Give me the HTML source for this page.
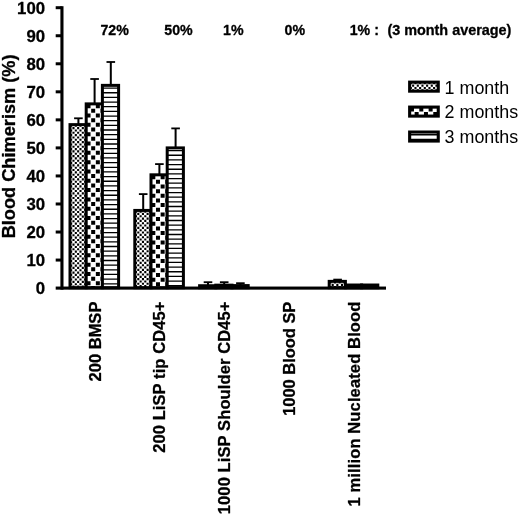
<!DOCTYPE html>
<html lang="en">
<head>
<meta charset="utf-8">
<title>Blood Chimerism chart</title>
<style>
html,body{margin:0;padding:0;background:#fff;}
body{width:520px;height:515px;overflow:hidden;}
svg{display:block;}
text{font-family:"Liberation Sans",Arial,Helvetica,sans-serif;fill:#000;}
.b{font-weight:bold;stroke:#000;stroke-width:0.3px;stroke-linejoin:round;}
</style>
</head>
<body>
<svg width="520" height="515" viewBox="0 0 520 515">
<rect x="0" y="0" width="520" height="515" fill="#fff"/>

<rect x="77.40" y="118.30" width="2" height="6.33" fill="#000"/>
<rect x="74.10" y="117.40" width="8.6" height="1.8" fill="#000"/>
<rect x="70.00" y="124.63" width="16.20" height="163.07" fill="#fff"/>
<path d="M70.11 124.74H72.21V126.84H70.11ZM74.77 124.74H76.87V126.84H74.77ZM79.43 124.74H81.53V126.84H79.43ZM84.09 124.74H86.19V126.84H84.09ZM72.44 127.07H74.54V129.17H72.44ZM77.1 127.07H79.2V129.17H77.1ZM81.77 127.07H83.86V129.17H81.77ZM70.11 129.4H72.21V131.5H70.11ZM74.77 129.4H76.87V131.5H74.77ZM79.43 129.4H81.53V131.5H79.43ZM84.09 129.4H86.19V131.5H84.09ZM72.44 131.73H74.54V133.83H72.44ZM77.1 131.73H79.2V133.83H77.1ZM81.77 131.73H83.86V133.83H81.77ZM70.11 134.06H72.21V136.16H70.11ZM74.77 134.06H76.87V136.16H74.77ZM79.43 134.06H81.53V136.16H79.43ZM84.09 134.06H86.19V136.16H84.09ZM72.44 136.39H74.54V138.49H72.44ZM77.1 136.39H79.2V138.49H77.1ZM81.77 136.39H83.86V138.49H81.77ZM70.11 138.72H72.21V140.82H70.11ZM74.77 138.72H76.87V140.82H74.77ZM79.43 138.72H81.53V140.82H79.43ZM84.09 138.72H86.19V140.82H84.09ZM72.44 141.05H74.54V143.15H72.44ZM77.1 141.05H79.2V143.15H77.1ZM81.77 141.05H83.86V143.15H81.77ZM70.11 143.38H72.21V145.48H70.11ZM74.77 143.38H76.87V145.48H74.77ZM79.43 143.38H81.53V145.48H79.43ZM84.09 143.38H86.19V145.48H84.09ZM72.44 145.71H74.54V147.81H72.44ZM77.1 145.71H79.2V147.81H77.1ZM81.77 145.71H83.86V147.81H81.77ZM70.11 148.04H72.21V150.14H70.11ZM74.77 148.04H76.87V150.14H74.77ZM79.43 148.04H81.53V150.14H79.43ZM84.09 148.04H86.19V150.14H84.09ZM72.44 150.37H74.54V152.47H72.44ZM77.1 150.37H79.2V152.47H77.1ZM81.77 150.37H83.86V152.47H81.77ZM70.11 152.7H72.21V154.8H70.11ZM74.77 152.7H76.87V154.8H74.77ZM79.43 152.7H81.53V154.8H79.43ZM84.09 152.7H86.19V154.8H84.09ZM72.44 155.03H74.54V157.13H72.44ZM77.1 155.03H79.2V157.13H77.1ZM81.77 155.03H83.86V157.13H81.77ZM70.11 157.36H72.21V159.46H70.11ZM74.77 157.36H76.87V159.46H74.77ZM79.43 157.36H81.53V159.46H79.43ZM84.09 157.36H86.19V159.46H84.09ZM72.44 159.69H74.54V161.79H72.44ZM77.1 159.69H79.2V161.79H77.1ZM81.77 159.69H83.86V161.79H81.77ZM70.11 162.02H72.21V164.12H70.11ZM74.77 162.02H76.87V164.12H74.77ZM79.43 162.02H81.53V164.12H79.43ZM84.09 162.02H86.19V164.12H84.09ZM72.44 164.35H74.54V166.45H72.44ZM77.1 164.35H79.2V166.45H77.1ZM81.77 164.35H83.86V166.45H81.77ZM70.11 166.68H72.21V168.78H70.11ZM74.77 166.68H76.87V168.78H74.77ZM79.43 166.68H81.53V168.78H79.43ZM84.09 166.68H86.19V168.78H84.09ZM72.44 169.01H74.54V171.11H72.44ZM77.1 169.01H79.2V171.11H77.1ZM81.77 169.01H83.86V171.11H81.77ZM70.11 171.34H72.21V173.44H70.11ZM74.77 171.34H76.87V173.44H74.77ZM79.43 171.34H81.53V173.44H79.43ZM84.09 171.34H86.19V173.44H84.09ZM72.44 173.67H74.54V175.77H72.44ZM77.1 173.67H79.2V175.77H77.1ZM81.77 173.67H83.86V175.77H81.77ZM70.11 176H72.21V178.1H70.11ZM74.77 176H76.87V178.1H74.77ZM79.43 176H81.53V178.1H79.43ZM84.09 176H86.19V178.1H84.09ZM72.44 178.33H74.54V180.43H72.44ZM77.1 178.33H79.2V180.43H77.1ZM81.77 178.33H83.86V180.43H81.77ZM70.11 180.66H72.21V182.76H70.11ZM74.77 180.66H76.87V182.76H74.77ZM79.43 180.66H81.53V182.76H79.43ZM84.09 180.66H86.19V182.76H84.09ZM72.44 182.99H74.54V185.09H72.44ZM77.1 182.99H79.2V185.09H77.1ZM81.77 182.99H83.86V185.09H81.77ZM70.11 185.32H72.21V187.42H70.11ZM74.77 185.32H76.87V187.42H74.77ZM79.43 185.32H81.53V187.42H79.43ZM84.09 185.32H86.19V187.42H84.09ZM72.44 187.65H74.54V189.75H72.44ZM77.1 187.65H79.2V189.75H77.1ZM81.77 187.65H83.86V189.75H81.77ZM70.11 189.98H72.21V192.08H70.11ZM74.77 189.98H76.87V192.08H74.77ZM79.43 189.98H81.53V192.08H79.43ZM84.09 189.98H86.19V192.08H84.09ZM72.44 192.31H74.54V194.41H72.44ZM77.1 192.31H79.2V194.41H77.1ZM81.77 192.31H83.86V194.41H81.77ZM70.11 194.64H72.21V196.74H70.11ZM74.77 194.64H76.87V196.74H74.77ZM79.43 194.64H81.53V196.74H79.43ZM84.09 194.64H86.19V196.74H84.09ZM72.44 196.97H74.54V199.07H72.44ZM77.1 196.97H79.2V199.07H77.1ZM81.77 196.97H83.86V199.07H81.77ZM70.11 199.3H72.21V201.4H70.11ZM74.77 199.3H76.87V201.4H74.77ZM79.43 199.3H81.53V201.4H79.43ZM84.09 199.3H86.19V201.4H84.09ZM72.44 201.63H74.54V203.73H72.44ZM77.1 201.63H79.2V203.73H77.1ZM81.77 201.63H83.86V203.73H81.77ZM70.11 203.96H72.21V206.06H70.11ZM74.77 203.96H76.87V206.06H74.77ZM79.43 203.96H81.53V206.06H79.43ZM84.09 203.96H86.19V206.06H84.09ZM72.44 206.29H74.54V208.39H72.44ZM77.1 206.29H79.2V208.39H77.1ZM81.77 206.29H83.86V208.39H81.77ZM70.11 208.62H72.21V210.72H70.11ZM74.77 208.62H76.87V210.72H74.77ZM79.43 208.62H81.53V210.72H79.43ZM84.09 208.62H86.19V210.72H84.09ZM72.44 210.95H74.54V213.05H72.44ZM77.1 210.95H79.2V213.05H77.1ZM81.77 210.95H83.86V213.05H81.77ZM70.11 213.28H72.21V215.38H70.11ZM74.77 213.28H76.87V215.38H74.77ZM79.43 213.28H81.53V215.38H79.43ZM84.09 213.28H86.19V215.38H84.09ZM72.44 215.61H74.54V217.71H72.44ZM77.1 215.61H79.2V217.71H77.1ZM81.77 215.61H83.86V217.71H81.77ZM70.11 217.94H72.21V220.04H70.11ZM74.77 217.94H76.87V220.04H74.77ZM79.43 217.94H81.53V220.04H79.43ZM84.09 217.94H86.19V220.04H84.09ZM72.44 220.27H74.54V222.37H72.44ZM77.1 220.27H79.2V222.37H77.1ZM81.77 220.27H83.86V222.37H81.77ZM70.11 222.6H72.21V224.7H70.11ZM74.77 222.6H76.87V224.7H74.77ZM79.43 222.6H81.53V224.7H79.43ZM84.09 222.6H86.19V224.7H84.09ZM72.44 224.93H74.54V227.03H72.44ZM77.1 224.93H79.2V227.03H77.1ZM81.77 224.93H83.86V227.03H81.77ZM70.11 227.26H72.21V229.36H70.11ZM74.77 227.26H76.87V229.36H74.77ZM79.43 227.26H81.53V229.36H79.43ZM84.09 227.26H86.19V229.36H84.09ZM72.44 229.59H74.54V231.69H72.44ZM77.1 229.59H79.2V231.69H77.1ZM81.77 229.59H83.86V231.69H81.77ZM70.11 231.92H72.21V234.02H70.11ZM74.77 231.92H76.87V234.02H74.77ZM79.43 231.92H81.53V234.02H79.43ZM84.09 231.92H86.19V234.02H84.09ZM72.44 234.25H74.54V236.35H72.44ZM77.1 234.25H79.2V236.35H77.1ZM81.77 234.25H83.86V236.35H81.77ZM70.11 236.58H72.21V238.68H70.11ZM74.77 236.58H76.87V238.68H74.77ZM79.43 236.58H81.53V238.68H79.43ZM84.09 236.58H86.19V238.68H84.09ZM72.44 238.91H74.54V241.01H72.44ZM77.1 238.91H79.2V241.01H77.1ZM81.77 238.91H83.86V241.01H81.77ZM70.11 241.24H72.21V243.34H70.11ZM74.77 241.24H76.87V243.34H74.77ZM79.43 241.24H81.53V243.34H79.43ZM84.09 241.24H86.19V243.34H84.09ZM72.44 243.57H74.54V245.67H72.44ZM77.1 243.57H79.2V245.67H77.1ZM81.77 243.57H83.86V245.67H81.77ZM70.11 245.9H72.21V248H70.11ZM74.77 245.9H76.87V248H74.77ZM79.43 245.9H81.53V248H79.43ZM84.09 245.9H86.19V248H84.09ZM72.44 248.23H74.54V250.33H72.44ZM77.1 248.23H79.2V250.33H77.1ZM81.77 248.23H83.86V250.33H81.77ZM70.11 250.56H72.21V252.66H70.11ZM74.77 250.56H76.87V252.66H74.77ZM79.43 250.56H81.53V252.66H79.43ZM84.09 250.56H86.19V252.66H84.09ZM72.44 252.89H74.54V254.99H72.44ZM77.1 252.89H79.2V254.99H77.1ZM81.77 252.89H83.86V254.99H81.77ZM70.11 255.22H72.21V257.32H70.11ZM74.77 255.22H76.87V257.32H74.77ZM79.43 255.22H81.53V257.32H79.43ZM84.09 255.22H86.19V257.32H84.09ZM72.44 257.55H74.54V259.65H72.44ZM77.1 257.55H79.2V259.65H77.1ZM81.77 257.55H83.86V259.65H81.77ZM70.11 259.88H72.21V261.98H70.11ZM74.77 259.88H76.87V261.98H74.77ZM79.43 259.88H81.53V261.98H79.43ZM84.09 259.88H86.19V261.98H84.09ZM72.44 262.21H74.54V264.31H72.44ZM77.1 262.21H79.2V264.31H77.1ZM81.77 262.21H83.86V264.31H81.77ZM70.11 264.54H72.21V266.64H70.11ZM74.77 264.54H76.87V266.64H74.77ZM79.43 264.54H81.53V266.64H79.43ZM84.09 264.54H86.19V266.64H84.09ZM72.44 266.87H74.54V268.97H72.44ZM77.1 266.87H79.2V268.97H77.1ZM81.77 266.87H83.86V268.97H81.77ZM70.11 269.2H72.21V271.3H70.11ZM74.77 269.2H76.87V271.3H74.77ZM79.43 269.2H81.53V271.3H79.43ZM84.09 269.2H86.19V271.3H84.09ZM72.44 271.53H74.54V273.63H72.44ZM77.1 271.53H79.2V273.63H77.1ZM81.77 271.53H83.86V273.63H81.77ZM70.11 273.86H72.21V275.96H70.11ZM74.77 273.86H76.87V275.96H74.77ZM79.43 273.86H81.53V275.96H79.43ZM84.09 273.86H86.19V275.96H84.09ZM72.44 276.19H74.54V278.29H72.44ZM77.1 276.19H79.2V278.29H77.1ZM81.77 276.19H83.86V278.29H81.77ZM70.11 278.52H72.21V280.62H70.11ZM74.77 278.52H76.87V280.62H74.77ZM79.43 278.52H81.53V280.62H79.43ZM84.09 278.52H86.19V280.62H84.09ZM72.44 280.85H74.54V282.95H72.44ZM77.1 280.85H79.2V282.95H77.1ZM81.77 280.85H83.86V282.95H81.77ZM70.11 283.18H72.21V285.28H70.11ZM74.77 283.18H76.87V285.28H74.77ZM79.43 283.18H81.53V285.28H79.43ZM84.09 283.18H86.19V285.28H84.09ZM72.44 285.51H74.54V287.61H72.44ZM77.1 285.51H79.2V287.61H77.1ZM81.77 285.51H83.86V287.61H81.77ZM70.11 287.84H72.21V288.1H70.11ZM74.77 287.84H76.87V288.1H74.77ZM79.43 287.84H81.53V288.1H79.43ZM84.09 287.84H86.19V288.1H84.09Z" fill="#000"/>
<rect x="70.00" y="124.63" width="16.20" height="163.07" fill="none" stroke="#000" stroke-width="3.0"/>
<rect x="93.60" y="79.00" width="2" height="24.88" fill="#000"/>
<rect x="90.30" y="78.10" width="8.6" height="1.8" fill="#000"/>
<rect x="86.20" y="103.88" width="16.20" height="183.82" fill="#fff"/>
<path d="M86.53 104.21H90.53V108.21H86.53ZM95.85 104.21H99.85V108.21H95.85ZM91.19 108.87H95.19V112.87H91.19ZM100.51 108.87H102.4V112.87H100.51ZM86.53 113.53H90.53V117.53H86.53ZM95.85 113.53H99.85V117.53H95.85ZM91.19 118.19H95.19V122.19H91.19ZM100.51 118.19H102.4V122.19H100.51ZM86.53 122.85H90.53V126.85H86.53ZM95.85 122.85H99.85V126.85H95.85ZM91.19 127.51H95.19V131.51H91.19ZM100.51 127.51H102.4V131.51H100.51ZM86.53 132.17H90.53V136.17H86.53ZM95.85 132.17H99.85V136.17H95.85ZM91.19 136.83H95.19V140.83H91.19ZM100.51 136.83H102.4V140.83H100.51ZM86.53 141.49H90.53V145.49H86.53ZM95.85 141.49H99.85V145.49H95.85ZM91.19 146.15H95.19V150.15H91.19ZM100.51 146.15H102.4V150.15H100.51ZM86.53 150.81H90.53V154.81H86.53ZM95.85 150.81H99.85V154.81H95.85ZM91.19 155.47H95.19V159.47H91.19ZM100.51 155.47H102.4V159.47H100.51ZM86.53 160.13H90.53V164.13H86.53ZM95.85 160.13H99.85V164.13H95.85ZM91.19 164.79H95.19V168.79H91.19ZM100.51 164.79H102.4V168.79H100.51ZM86.53 169.45H90.53V173.45H86.53ZM95.85 169.45H99.85V173.45H95.85ZM91.19 174.11H95.19V178.11H91.19ZM100.51 174.11H102.4V178.11H100.51ZM86.53 178.77H90.53V182.77H86.53ZM95.85 178.77H99.85V182.77H95.85ZM91.19 183.43H95.19V187.43H91.19ZM100.51 183.43H102.4V187.43H100.51ZM86.53 188.09H90.53V192.09H86.53ZM95.85 188.09H99.85V192.09H95.85ZM91.19 192.75H95.19V196.75H91.19ZM100.51 192.75H102.4V196.75H100.51ZM86.53 197.41H90.53V201.41H86.53ZM95.85 197.41H99.85V201.41H95.85ZM91.19 202.07H95.19V206.07H91.19ZM100.51 202.07H102.4V206.07H100.51ZM86.53 206.73H90.53V210.73H86.53ZM95.85 206.73H99.85V210.73H95.85ZM91.19 211.39H95.19V215.39H91.19ZM100.51 211.39H102.4V215.39H100.51ZM86.53 216.05H90.53V220.05H86.53ZM95.85 216.05H99.85V220.05H95.85ZM91.19 220.71H95.19V224.71H91.19ZM100.51 220.71H102.4V224.71H100.51ZM86.53 225.37H90.53V229.37H86.53ZM95.85 225.37H99.85V229.37H95.85ZM91.19 230.03H95.19V234.03H91.19ZM100.51 230.03H102.4V234.03H100.51ZM86.53 234.69H90.53V238.69H86.53ZM95.85 234.69H99.85V238.69H95.85ZM91.19 239.35H95.19V243.35H91.19ZM100.51 239.35H102.4V243.35H100.51ZM86.53 244.01H90.53V248.01H86.53ZM95.85 244.01H99.85V248.01H95.85ZM91.19 248.67H95.19V252.67H91.19ZM100.51 248.67H102.4V252.67H100.51ZM86.53 253.33H90.53V257.33H86.53ZM95.85 253.33H99.85V257.33H95.85ZM91.19 257.99H95.19V261.99H91.19ZM100.51 257.99H102.4V261.99H100.51ZM86.53 262.65H90.53V266.65H86.53ZM95.85 262.65H99.85V266.65H95.85ZM91.19 267.31H95.19V271.31H91.19ZM100.51 267.31H102.4V271.31H100.51ZM86.53 271.97H90.53V275.97H86.53ZM95.85 271.97H99.85V275.97H95.85ZM91.19 276.63H95.19V280.63H91.19ZM100.51 276.63H102.4V280.63H100.51ZM86.53 281.29H90.53V285.29H86.53ZM95.85 281.29H99.85V285.29H95.85ZM91.19 285.95H95.19V288.1H91.19ZM100.51 285.95H102.4V288.1H100.51Z" fill="#000"/>
<rect x="86.20" y="103.88" width="16.20" height="183.82" fill="none" stroke="#000" stroke-width="3.0"/>
<rect x="109.80" y="62.00" width="2" height="23.37" fill="#000"/>
<rect x="106.50" y="61.10" width="8.6" height="1.8" fill="#000"/>
<rect x="102.40" y="85.37" width="16.20" height="202.33" fill="#fff"/>
<path d="M102.4 87.42H118.6V88.72H102.4ZM102.4 92.08H118.6V93.38H102.4ZM102.4 96.74H118.6V98.04H102.4ZM102.4 101.4H118.6V102.7H102.4ZM102.4 106.06H118.6V107.36H102.4ZM102.4 110.72H118.6V112.02H102.4ZM102.4 115.38H118.6V116.68H102.4ZM102.4 120.04H118.6V121.34H102.4ZM102.4 124.7H118.6V126H102.4ZM102.4 129.36H118.6V130.66H102.4ZM102.4 134.02H118.6V135.32H102.4ZM102.4 138.68H118.6V139.98H102.4ZM102.4 143.34H118.6V144.64H102.4ZM102.4 148H118.6V149.3H102.4ZM102.4 152.66H118.6V153.96H102.4ZM102.4 157.32H118.6V158.62H102.4ZM102.4 161.98H118.6V163.28H102.4ZM102.4 166.64H118.6V167.94H102.4ZM102.4 171.3H118.6V172.6H102.4ZM102.4 175.96H118.6V177.26H102.4ZM102.4 180.62H118.6V181.92H102.4ZM102.4 185.28H118.6V186.58H102.4ZM102.4 189.94H118.6V191.24H102.4ZM102.4 194.6H118.6V195.9H102.4ZM102.4 199.26H118.6V200.56H102.4ZM102.4 203.92H118.6V205.22H102.4ZM102.4 208.58H118.6V209.88H102.4ZM102.4 213.24H118.6V214.54H102.4ZM102.4 217.9H118.6V219.2H102.4ZM102.4 222.56H118.6V223.86H102.4ZM102.4 227.22H118.6V228.52H102.4ZM102.4 231.88H118.6V233.18H102.4ZM102.4 236.54H118.6V237.84H102.4ZM102.4 241.2H118.6V242.5H102.4ZM102.4 245.86H118.6V247.16H102.4ZM102.4 250.52H118.6V251.82H102.4ZM102.4 255.18H118.6V256.48H102.4ZM102.4 259.84H118.6V261.14H102.4ZM102.4 264.5H118.6V265.8H102.4ZM102.4 269.16H118.6V270.46H102.4ZM102.4 273.82H118.6V275.12H102.4ZM102.4 278.48H118.6V279.78H102.4ZM102.4 283.14H118.6V284.44H102.4ZM102.4 287.8H118.6V288.1H102.4Z" fill="#000"/>
<rect x="102.40" y="85.37" width="16.20" height="202.33" fill="none" stroke="#000" stroke-width="3.0"/>
<rect x="142.20" y="194.10" width="2" height="16.33" fill="#000"/>
<rect x="138.90" y="193.20" width="8.6" height="1.8" fill="#000"/>
<rect x="134.80" y="210.43" width="16.20" height="77.27" fill="#fff"/>
<path d="M134.92 210.54H137.02V212.64H134.92ZM139.58 210.54H141.68V212.64H139.58ZM144.24 210.54H146.34V212.64H144.24ZM148.9 210.54H151V212.64H148.9ZM137.25 212.87H139.35V214.97H137.25ZM141.91 212.87H144.01V214.97H141.91ZM146.57 212.87H148.67V214.97H146.57ZM134.92 215.2H137.02V217.3H134.92ZM139.58 215.2H141.68V217.3H139.58ZM144.24 215.2H146.34V217.3H144.24ZM148.9 215.2H151V217.3H148.9ZM137.25 217.53H139.35V219.63H137.25ZM141.91 217.53H144.01V219.63H141.91ZM146.57 217.53H148.67V219.63H146.57ZM134.92 219.86H137.02V221.96H134.92ZM139.58 219.86H141.68V221.96H139.58ZM144.24 219.86H146.34V221.96H144.24ZM148.9 219.86H151V221.96H148.9ZM137.25 222.19H139.35V224.29H137.25ZM141.91 222.19H144.01V224.29H141.91ZM146.57 222.19H148.67V224.29H146.57ZM134.92 224.52H137.02V226.62H134.92ZM139.58 224.52H141.68V226.62H139.58ZM144.24 224.52H146.34V226.62H144.24ZM148.9 224.52H151V226.62H148.9ZM137.25 226.85H139.35V228.95H137.25ZM141.91 226.85H144.01V228.95H141.91ZM146.57 226.85H148.67V228.95H146.57ZM134.92 229.18H137.02V231.28H134.92ZM139.58 229.18H141.68V231.28H139.58ZM144.24 229.18H146.34V231.28H144.24ZM148.9 229.18H151V231.28H148.9ZM137.25 231.51H139.35V233.61H137.25ZM141.91 231.51H144.01V233.61H141.91ZM146.57 231.51H148.67V233.61H146.57ZM134.92 233.84H137.02V235.94H134.92ZM139.58 233.84H141.68V235.94H139.58ZM144.24 233.84H146.34V235.94H144.24ZM148.9 233.84H151V235.94H148.9ZM137.25 236.17H139.35V238.27H137.25ZM141.91 236.17H144.01V238.27H141.91ZM146.57 236.17H148.67V238.27H146.57ZM134.92 238.5H137.02V240.6H134.92ZM139.58 238.5H141.68V240.6H139.58ZM144.24 238.5H146.34V240.6H144.24ZM148.9 238.5H151V240.6H148.9ZM137.25 240.83H139.35V242.93H137.25ZM141.91 240.83H144.01V242.93H141.91ZM146.57 240.83H148.67V242.93H146.57ZM134.92 243.16H137.02V245.26H134.92ZM139.58 243.16H141.68V245.26H139.58ZM144.24 243.16H146.34V245.26H144.24ZM148.9 243.16H151V245.26H148.9ZM137.25 245.49H139.35V247.59H137.25ZM141.91 245.49H144.01V247.59H141.91ZM146.57 245.49H148.67V247.59H146.57ZM134.92 247.82H137.02V249.92H134.92ZM139.58 247.82H141.68V249.92H139.58ZM144.24 247.82H146.34V249.92H144.24ZM148.9 247.82H151V249.92H148.9ZM137.25 250.15H139.35V252.25H137.25ZM141.91 250.15H144.01V252.25H141.91ZM146.57 250.15H148.67V252.25H146.57ZM134.92 252.48H137.02V254.58H134.92ZM139.58 252.48H141.68V254.58H139.58ZM144.24 252.48H146.34V254.58H144.24ZM148.9 252.48H151V254.58H148.9ZM137.25 254.81H139.35V256.91H137.25ZM141.91 254.81H144.01V256.91H141.91ZM146.57 254.81H148.67V256.91H146.57ZM134.92 257.14H137.02V259.24H134.92ZM139.58 257.14H141.68V259.24H139.58ZM144.24 257.14H146.34V259.24H144.24ZM148.9 257.14H151V259.24H148.9ZM137.25 259.47H139.35V261.57H137.25ZM141.91 259.47H144.01V261.57H141.91ZM146.57 259.47H148.67V261.57H146.57ZM134.92 261.8H137.02V263.9H134.92ZM139.58 261.8H141.68V263.9H139.58ZM144.24 261.8H146.34V263.9H144.24ZM148.9 261.8H151V263.9H148.9ZM137.25 264.13H139.35V266.23H137.25ZM141.91 264.13H144.01V266.23H141.91ZM146.57 264.13H148.67V266.23H146.57ZM134.92 266.46H137.02V268.56H134.92ZM139.58 266.46H141.68V268.56H139.58ZM144.24 266.46H146.34V268.56H144.24ZM148.9 266.46H151V268.56H148.9ZM137.25 268.79H139.35V270.89H137.25ZM141.91 268.79H144.01V270.89H141.91ZM146.57 268.79H148.67V270.89H146.57ZM134.92 271.12H137.02V273.22H134.92ZM139.58 271.12H141.68V273.22H139.58ZM144.24 271.12H146.34V273.22H144.24ZM148.9 271.12H151V273.22H148.9ZM137.25 273.45H139.35V275.55H137.25ZM141.91 273.45H144.01V275.55H141.91ZM146.57 273.45H148.67V275.55H146.57ZM134.92 275.78H137.02V277.88H134.92ZM139.58 275.78H141.68V277.88H139.58ZM144.24 275.78H146.34V277.88H144.24ZM148.9 275.78H151V277.88H148.9ZM137.25 278.11H139.35V280.21H137.25ZM141.91 278.11H144.01V280.21H141.91ZM146.57 278.11H148.67V280.21H146.57ZM134.92 280.44H137.02V282.54H134.92ZM139.58 280.44H141.68V282.54H139.58ZM144.24 280.44H146.34V282.54H144.24ZM148.9 280.44H151V282.54H148.9ZM137.25 282.77H139.35V284.87H137.25ZM141.91 282.77H144.01V284.87H141.91ZM146.57 282.77H148.67V284.87H146.57ZM134.92 285.1H137.02V287.2H134.92ZM139.58 285.1H141.68V287.2H139.58ZM144.24 285.1H146.34V287.2H144.24ZM148.9 285.1H151V287.2H148.9ZM137.25 287.43H139.35V288.1H137.25ZM141.91 287.43H144.01V288.1H141.91ZM146.57 287.43H148.67V288.1H146.57Z" fill="#000"/>
<rect x="134.80" y="210.43" width="16.20" height="77.27" fill="none" stroke="#000" stroke-width="3.0"/>
<rect x="158.40" y="164.10" width="2" height="10.72" fill="#000"/>
<rect x="155.10" y="163.20" width="8.6" height="1.8" fill="#000"/>
<rect x="151.00" y="174.82" width="16.20" height="112.88" fill="#fff"/>
<path d="M151.33 175.15H155.33V179.15H151.33ZM160.65 175.15H164.65V179.15H160.65ZM155.99 179.81H159.99V183.81H155.99ZM165.31 179.81H167.2V183.81H165.31ZM151.33 184.47H155.33V188.47H151.33ZM160.65 184.47H164.65V188.47H160.65ZM155.99 189.13H159.99V193.13H155.99ZM165.31 189.13H167.2V193.13H165.31ZM151.33 193.79H155.33V197.79H151.33ZM160.65 193.79H164.65V197.79H160.65ZM155.99 198.45H159.99V202.45H155.99ZM165.31 198.45H167.2V202.45H165.31ZM151.33 203.11H155.33V207.11H151.33ZM160.65 203.11H164.65V207.11H160.65ZM155.99 207.77H159.99V211.77H155.99ZM165.31 207.77H167.2V211.77H165.31ZM151.33 212.43H155.33V216.43H151.33ZM160.65 212.43H164.65V216.43H160.65ZM155.99 217.09H159.99V221.09H155.99ZM165.31 217.09H167.2V221.09H165.31ZM151.33 221.75H155.33V225.75H151.33ZM160.65 221.75H164.65V225.75H160.65ZM155.99 226.41H159.99V230.41H155.99ZM165.31 226.41H167.2V230.41H165.31ZM151.33 231.07H155.33V235.07H151.33ZM160.65 231.07H164.65V235.07H160.65ZM155.99 235.73H159.99V239.73H155.99ZM165.31 235.73H167.2V239.73H165.31ZM151.33 240.39H155.33V244.39H151.33ZM160.65 240.39H164.65V244.39H160.65ZM155.99 245.05H159.99V249.05H155.99ZM165.31 245.05H167.2V249.05H165.31ZM151.33 249.71H155.33V253.71H151.33ZM160.65 249.71H164.65V253.71H160.65ZM155.99 254.37H159.99V258.37H155.99ZM165.31 254.37H167.2V258.37H165.31ZM151.33 259.03H155.33V263.03H151.33ZM160.65 259.03H164.65V263.03H160.65ZM155.99 263.69H159.99V267.69H155.99ZM165.31 263.69H167.2V267.69H165.31ZM151.33 268.35H155.33V272.35H151.33ZM160.65 268.35H164.65V272.35H160.65ZM155.99 273.01H159.99V277.01H155.99ZM165.31 273.01H167.2V277.01H165.31ZM151.33 277.67H155.33V281.67H151.33ZM160.65 277.67H164.65V281.67H160.65ZM155.99 282.33H159.99V286.33H155.99ZM165.31 282.33H167.2V286.33H165.31ZM151.33 286.99H155.33V288.1H151.33ZM160.65 286.99H164.65V288.1H160.65Z" fill="#000"/>
<rect x="151.00" y="174.82" width="16.20" height="112.88" fill="none" stroke="#000" stroke-width="3.0"/>
<rect x="174.60" y="128.40" width="2" height="19.50" fill="#000"/>
<rect x="171.30" y="127.50" width="8.6" height="1.8" fill="#000"/>
<rect x="167.20" y="147.90" width="16.20" height="139.80" fill="#fff"/>
<path d="M167.2 149.95H183.4V151.25H167.2ZM167.2 154.61H183.4V155.91H167.2ZM167.2 159.27H183.4V160.57H167.2ZM167.2 163.93H183.4V165.23H167.2ZM167.2 168.59H183.4V169.89H167.2ZM167.2 173.25H183.4V174.55H167.2ZM167.2 177.91H183.4V179.21H167.2ZM167.2 182.57H183.4V183.87H167.2ZM167.2 187.23H183.4V188.53H167.2ZM167.2 191.89H183.4V193.19H167.2ZM167.2 196.55H183.4V197.85H167.2ZM167.2 201.21H183.4V202.51H167.2ZM167.2 205.87H183.4V207.17H167.2ZM167.2 210.53H183.4V211.83H167.2ZM167.2 215.19H183.4V216.49H167.2ZM167.2 219.85H183.4V221.15H167.2ZM167.2 224.51H183.4V225.81H167.2ZM167.2 229.17H183.4V230.47H167.2ZM167.2 233.83H183.4V235.13H167.2ZM167.2 238.49H183.4V239.79H167.2ZM167.2 243.15H183.4V244.45H167.2ZM167.2 247.81H183.4V249.11H167.2ZM167.2 252.47H183.4V253.77H167.2ZM167.2 257.13H183.4V258.43H167.2ZM167.2 261.79H183.4V263.09H167.2ZM167.2 266.45H183.4V267.75H167.2ZM167.2 271.11H183.4V272.41H167.2ZM167.2 275.77H183.4V277.07H167.2ZM167.2 280.43H183.4V281.73H167.2ZM167.2 285.09H183.4V286.39H167.2Z" fill="#000"/>
<rect x="167.20" y="147.90" width="16.20" height="139.80" fill="none" stroke="#000" stroke-width="3.0"/>
<rect x="207.00" y="282.20" width="2" height="3.52" fill="#000"/>
<rect x="203.70" y="281.30" width="8.6" height="1.8" fill="#000"/>
<rect x="199.60" y="285.72" width="16.20" height="1.98" fill="#000"/>
<rect x="199.60" y="285.72" width="16.20" height="1.98" fill="none" stroke="#000" stroke-width="3.0"/>
<rect x="223.20" y="282.20" width="2" height="2.96" fill="#000"/>
<rect x="219.90" y="281.30" width="8.6" height="1.8" fill="#000"/>
<rect x="215.80" y="285.16" width="16.20" height="2.54" fill="#000"/>
<rect x="215.80" y="285.16" width="16.20" height="2.54" fill="none" stroke="#000" stroke-width="3.0"/>
<rect x="239.40" y="283.20" width="2" height="2.38" fill="#000"/>
<rect x="236.10" y="282.30" width="8.6" height="1.8" fill="#000"/>
<rect x="232.00" y="285.58" width="16.20" height="2.12" fill="#000"/>
<rect x="232.00" y="285.58" width="16.20" height="2.12" fill="none" stroke="#000" stroke-width="3.0"/>
<rect x="336.60" y="279.60" width="2" height="1.77" fill="#000"/>
<rect x="333.30" y="278.70" width="8.6" height="1.8" fill="#000"/>
<rect x="329.20" y="281.37" width="16.20" height="6.33" fill="#fff"/>
<path d="M329.31 281.49H331.42V283.59H329.31ZM333.98 281.49H336.08V283.59H333.98ZM338.63 281.49H340.74V283.59H338.63ZM343.3 281.49H345.4V283.59H343.3ZM331.64 283.82H333.75V285.92H331.64ZM336.31 283.82H338.41V285.92H336.31ZM340.96 283.82H343.06V285.92H340.96ZM329.31 286.15H331.42V288.1H329.31ZM333.98 286.15H336.08V288.1H333.98ZM338.63 286.15H340.74V288.1H338.63ZM343.3 286.15H345.4V288.1H343.3Z" fill="#000"/>
<rect x="329.20" y="281.37" width="16.20" height="6.33" fill="none" stroke="#000" stroke-width="3.0"/>
<rect x="345.40" y="285.02" width="16.20" height="2.68" fill="#000"/>
<rect x="345.40" y="285.02" width="16.20" height="2.68" fill="none" stroke="#000" stroke-width="3.0"/>
<rect x="361.60" y="285.02" width="16.20" height="2.68" fill="#000"/>
<rect x="361.60" y="285.02" width="16.20" height="2.68" fill="none" stroke="#000" stroke-width="3.0"/>
<rect x="60.4" y="6.2" width="3.1" height="283.45" fill="#000"/>
<rect x="55.7" y="286.55" width="330.30" height="3.1" fill="#000"/>
<rect x="55.7" y="258.56" width="6" height="3.0" fill="#000"/>
<rect x="55.7" y="230.52" width="6" height="3.0" fill="#000"/>
<rect x="55.7" y="202.48" width="6" height="3.0" fill="#000"/>
<rect x="55.7" y="174.44" width="6" height="3.0" fill="#000"/>
<rect x="55.7" y="146.40" width="6" height="3.0" fill="#000"/>
<rect x="55.7" y="118.36" width="6" height="3.0" fill="#000"/>
<rect x="55.7" y="90.32" width="6" height="3.0" fill="#000"/>
<rect x="55.7" y="62.28" width="6" height="3.0" fill="#000"/>
<rect x="55.7" y="34.24" width="6" height="3.0" fill="#000"/>
<rect x="55.7" y="6.20" width="6" height="3.0" fill="#000"/>
<text class="b" x="45.1" y="294.10" font-size="16.8" text-anchor="end">0</text>
<text class="b" x="45.1" y="266.06" font-size="16.8" text-anchor="end">10</text>
<text class="b" x="45.1" y="238.02" font-size="16.8" text-anchor="end">20</text>
<text class="b" x="45.1" y="209.98" font-size="16.8" text-anchor="end">30</text>
<text class="b" x="45.1" y="181.94" font-size="16.8" text-anchor="end">40</text>
<text class="b" x="45.1" y="153.90" font-size="16.8" text-anchor="end">50</text>
<text class="b" x="45.1" y="125.86" font-size="16.8" text-anchor="end">60</text>
<text class="b" x="45.1" y="97.82" font-size="16.8" text-anchor="end">70</text>
<text class="b" x="45.1" y="69.78" font-size="16.8" text-anchor="end">80</text>
<text class="b" x="45.1" y="41.74" font-size="16.8" text-anchor="end">90</text>
<text class="b" x="45.1" y="13.70" font-size="16.8" text-anchor="end">100</text>
<text class="b" transform="translate(15.0 146.4) rotate(-90)" font-size="18.2" text-anchor="middle">Blood Chimerism (%)</text>
<text class="b" x="100.4" y="34.9" font-size="14.2">72%</text>
<text class="b" x="164.3" y="34.9" font-size="14.2">50%</text>
<text class="b" x="223.0" y="34.9" font-size="14.2">1%</text>
<text class="b" x="284.6" y="34.9" font-size="14.2">0%</text>
<text class="b" x="349.7" y="34.9" font-size="14.2">1% :</text>
<text class="b" x="387.4" y="34.9" font-size="14.4">(3 month average)</text>
<text class="b" transform="translate(100.60 381.40) rotate(-90)" font-size="16.5" textLength="79.8" lengthAdjust="spacing">200 BMSP</text>
<text class="b" transform="translate(165.40 452.80) rotate(-90)" font-size="16.5" textLength="151.2" lengthAdjust="spacing">200 LiSP tip CD45+</text>
<text class="b" transform="translate(230.20 514.20) rotate(-90)" font-size="16.5" textLength="212.6" lengthAdjust="spacing">1000 LiSP Shoulder CD45+</text>
<text class="b" transform="translate(295.00 415.80) rotate(-90)" font-size="16.5" textLength="114.2" lengthAdjust="spacing">1000 Blood SP</text>
<text class="b" transform="translate(359.80 506.50) rotate(-90)" font-size="16.5" textLength="204.9" lengthAdjust="spacing">1 million Nucleated Blood</text>
<rect x="408.1" y="80.60" width="31.7" height="12.1" fill="#fff"/>
<path d="M409.77 82.26H411.87V84.36H409.77ZM414.43 82.26H416.53V84.36H414.43ZM419.09 82.26H421.19V84.36H419.09ZM423.75 82.26H425.85V84.36H423.75ZM428.41 82.26H430.51V84.36H428.41ZM433.07 82.26H435.17V84.36H433.07ZM437.73 82.26H438.25V84.36H437.73ZM412.1 84.59H414.2V86.69H412.1ZM416.76 84.59H418.86V86.69H416.76ZM421.42 84.59H423.52V86.69H421.42ZM426.08 84.59H428.18V86.69H426.08ZM430.74 84.59H432.84V86.69H430.74ZM435.4 84.59H437.5V86.69H435.4ZM409.77 86.92H411.87V89.02H409.77ZM414.43 86.92H416.53V89.02H414.43ZM419.09 86.92H421.19V89.02H419.09ZM423.75 86.92H425.85V89.02H423.75ZM428.41 86.92H430.51V89.02H428.41ZM433.07 86.92H435.17V89.02H433.07ZM437.73 86.92H438.25V89.02H437.73ZM412.1 89.25H414.2V91.15H412.1ZM416.76 89.25H418.86V91.15H416.76ZM421.42 89.25H423.52V91.15H421.42ZM426.08 89.25H428.18V91.15H426.08ZM430.74 89.25H432.84V91.15H430.74ZM435.4 89.25H437.5V91.15H435.4Z" fill="#000"/>
<rect x="409.65" y="82.15" width="28.60" height="9.00" fill="none" stroke="#000" stroke-width="3.1"/>
<text x="444.6" y="93.50" font-size="17.9">1 month</text>
<rect x="408.1" y="105.55" width="31.7" height="12.1" fill="#fff"/>
<path d="M409.98 107.43H413.98V111.43H409.98ZM419.3 107.43H423.3V111.43H419.3ZM428.62 107.43H432.62V111.43H428.62ZM437.94 107.43H438.25V111.43H437.94ZM414.64 112.09H418.64V116.09H414.64ZM423.96 112.09H427.96V116.09H423.96ZM433.28 112.09H437.28V116.09H433.28Z" fill="#000"/>
<rect x="409.65" y="107.10" width="28.60" height="9.00" fill="none" stroke="#000" stroke-width="3.1"/>
<text x="444.6" y="118.45" font-size="17.9">2 months</text>
<rect x="408.1" y="130.50" width="31.7" height="12.1" fill="#fff"/>
<path d="M409.65 134.1H438.25V135.4H409.65ZM409.65 138.76H438.25V140.06H409.65Z" fill="#000"/>
<rect x="409.65" y="132.05" width="28.60" height="9.00" fill="none" stroke="#000" stroke-width="3.1"/>
<text x="444.6" y="143.40" font-size="17.9">3 months</text>
</svg>
</body>
</html>
